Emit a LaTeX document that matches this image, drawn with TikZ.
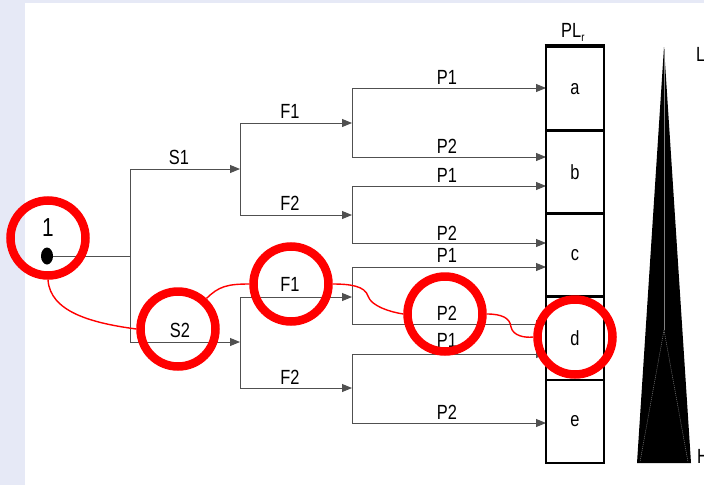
\documentclass[tikz,border=0pt]{standalone}
\usepackage{fontspec}
\setmainfont{Liberation Sans}[FakeStretch=0.8]
\usetikzlibrary{arrows.meta,shapes.geometric}
\definecolor{lav}{RGB}{230,233,246}
\definecolor{ln}{RGB}{80,80,80}
\begin{document}
\begin{tikzpicture}[x=1pt,y=-1pt,
  lbl/.style={font=\fontsize{20.5}{22}\selectfont, inner sep=0pt},
  tree/.style={draw=ln, line width=0.9pt},
  arr/.style={tree, -{Triangle[length=10pt,width=8pt]}},
  slot/.style={draw=black, line width=2.6pt, minimum width=58pt, minimum height=83.2pt, inner sep=0pt, font=\fontsize{20.5}{22}\selectfont},
  ring/.style={circle, draw=red, line width=8.5pt, minimum size=75pt, inner sep=0pt},
  trail/.style={draw=red, line width=1.4pt}]
% background
\fill[white] (0,0) rectangle (704,485);
\fill[lav] (0,0) rectangle (25,485);
\fill[lav] (0,0) rectangle (704,3);
\useasboundingbox (0,0) rectangle (704,485);

% root
\node[ellipse, fill=black, minimum width=12pt, minimum height=17pt, inner sep=0pt] (root) at (47,256) {};
\node[lbl, font=\fontsize{26}{28}\selectfont] (one) at (48,228) {1};
\coordinate (j0) at (130,256);
\coordinate (j0t) at (130,169);
\coordinate (j0b) at (130,342);
\coordinate (s1) at (240,169);
\coordinate (s2) at (240,342);
\draw[tree] (root) -- (j0);
\draw[tree] (j0t) -- (j0b);
\draw[arr] (j0t) -- (s1);
\draw[arr] (j0b) -- (s2);

% F level
\coordinate (f1a) at (240,123); \coordinate (f1b) at (352,123);
\coordinate (f2a) at (240,215); \coordinate (f2b) at (352,215);
\coordinate (f3a) at (240,297); \coordinate (f3b) at (352,297);
\coordinate (f4a) at (240,388); \coordinate (f4b) at (352,388);
\draw[tree] (f1a) -- (f2a);
\draw[tree] (f3a) -- (f4a);
\draw[arr] (f1a) -- (f1b);
\draw[arr] (f2a) -- (f2b);
\draw[arr] (f3a) -- (f3b);
\draw[arr] (f4a) -- (f4b);

% P level
\coordinate (p1a) at (352,88);  \coordinate (p1b) at (546,88);
\coordinate (p2a) at (352,157); \coordinate (p2b) at (546,157);
\coordinate (p3a) at (352,186); \coordinate (p3b) at (546,186);
\coordinate (p4a) at (352,243); \coordinate (p4b) at (546,243);
\coordinate (p5a) at (352,267); \coordinate (p5b) at (546,267);
\coordinate (p6a) at (352,324); \coordinate (p6b) at (546,324);
\coordinate (p7a) at (352,354); \coordinate (p7b) at (546,354);
\coordinate (p8a) at (352,423); \coordinate (p8b) at (546,423);
\draw[tree] (p1a) -- (p2a);
\draw[tree] (p3a) -- (p4a);
\draw[tree] (p5a) -- (p6a);
\draw[tree] (p7a) -- (p8a);
\foreach \i in {1,...,8} {\draw[arr] (p\i a) -- (p\i b);}

% labels
\node[lbl] (ls1) at (179,157) {S1};
\node[lbl] (ls2) at (180,330) {S2};
\node[lbl] (lf1) at (290,111) {F1};
\node[lbl] (lf2) at (290,203) {F2};
\node[lbl] (lf3) at (290,284) {F1};
\node[lbl] (lf4) at (290,377) {F2};
\node[lbl] (lp1) at (447,77) {P1};
\node[lbl] (lp2) at (447,146) {P2};
\node[lbl] (lp3) at (447,175) {P1};
\node[lbl] (lp4) at (447,233) {P2};
\node[lbl] (lp5) at (447,255) {P1};
\node[lbl] (lp6) at (447,313) {P2};
\node[lbl] (lp7) at (447,340) {P1};
\node[lbl] (lp8) at (447,412) {P2};

% boxes
\node[slot] (a) at (575,88.6) {a};
\node[slot] (b) at (575,171.8) {b};
\node[slot] (c) at (575,255) {c};
\node[slot] (d) at (575,338.2) {d};
\node[slot] (e) at (575,421.4) {e};
\draw[line width=3.5pt] (a.north west) -- (a.north east);
\node[lbl, anchor=west] (pl) at (561,32) {PL\raisebox{-4pt}{\fontsize{12}{12}\selectfont r}};

% triangle scale
\fill[black] (664,47) -- (691,463) -- (637,463) -- cycle;
\draw[gray, line width=0.5pt] (664,49) -- (664,330);
\draw[gray, line width=0.5pt, dash pattern=on 1pt off 1pt] (664,330) -- (640,462) (664,330) -- (688,462);
\node[lbl, anchor=west] (lL) at (696,54) {L};
\node[lbl, anchor=west] (lH) at (697,456) {H};

% red highlights
\node[ring] (c1) at (48,238) {};
\node[ring] (c2) at (178,329) {};
\node[ring] (c3) at (291,284) {};
\node[ring] (c4) at (445,314) {};
\node[ring] (c5) at (575,337) {};
\draw[trail] (c1.south) .. controls +(2,32) and +(-45,-6) .. (c2.west);
\draw[trail] (c2.47) .. controls +(12,-12) and +(-22,0) .. (c3.west);
\draw[trail] (c3.east) .. controls (350,284) and (365,286) .. (368,296) .. controls (371,306) and (390,312) .. (c4.west);
\draw[trail] (c4.east) .. controls (502,314) and (510,318) .. (511,327) .. controls (513,336) and (525,338) .. (c5.west);
\end{tikzpicture}
\end{document}
